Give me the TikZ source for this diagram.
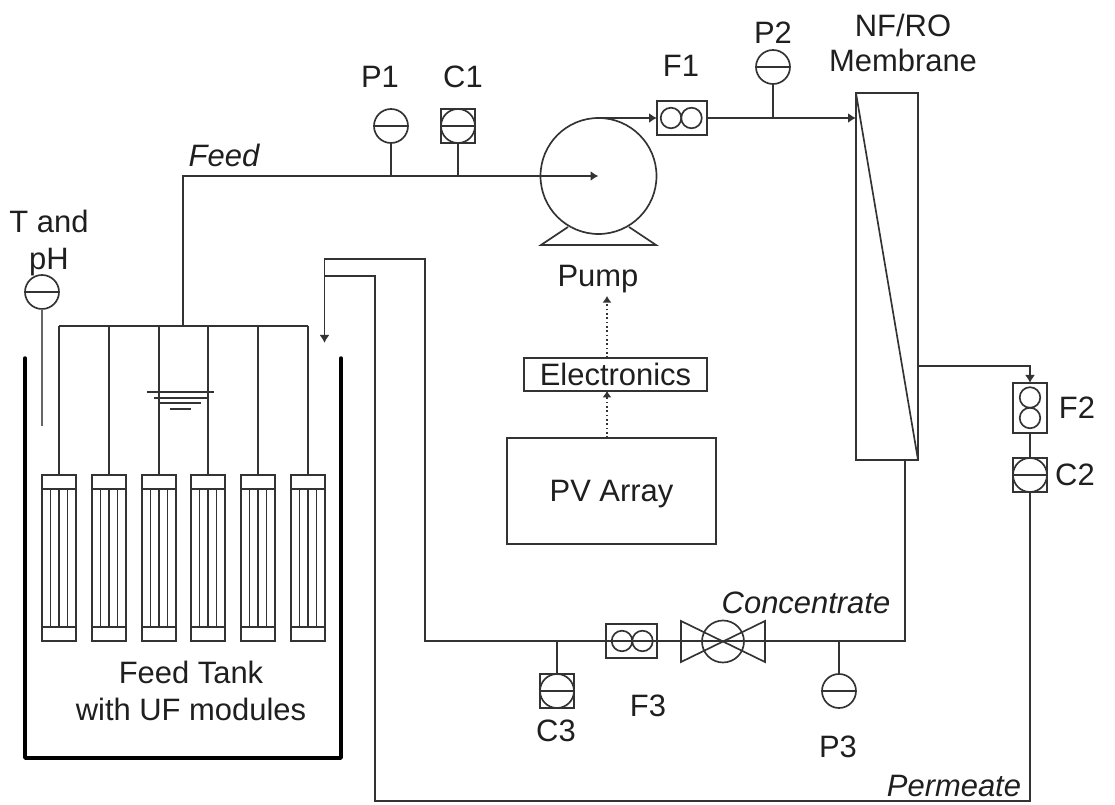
\documentclass[tikz,border=0pt]{standalone}
\usepackage{fontspec}
\setmainfont{Liberation Sans}
\usetikzlibrary{arrows.meta,calc}
\definecolor{ink}{gray}{0.2}
\definecolor{txt}{gray}{0.12}
\tikzset{
  every path/.append style={line width=1.25pt,draw=ink},
  lbl/.style={inner sep=0,outer sep=0,text=txt,font=\fontsize{23.2}{27}\selectfont,align=center},
  ilbl/.style={lbl,font=\fontsize{23.2}{27}\selectfont\itshape},
  gauge/.style={circle,draw=ink,inner sep=0,outer sep=0,minimum size=25.5pt,
    path picture={\draw (path picture bounding box.west) -- (path picture bounding box.east);}},
  sqbox/.style={rectangle,draw=ink,inner sep=0,outer sep=0,minimum size=25.5pt},
  flowbox/.style={rectangle,draw=ink,inner sep=0,outer sep=0},
  rotor/.style={circle,draw=ink,inner sep=0,outer sep=0,minimum size=15.4pt},
  flowto/.style={-{Latex[length=6pt,width=7.5pt]}},
  signal/.style={dotted,line width=1.2pt,-{Latex[length=5pt,width=7pt]}},
  modcap/.style={rectangle,draw=ink,inner sep=0,outer sep=0,minimum width=25.5pt,minimum height=10.2pt},
  tankwall/.style={line width=2.6pt,draw=black,line join=round,line cap=round},
}
\begin{document}
\begin{tikzpicture}[x=0.75pt,y=-0.75pt]
\useasboundingbox[fill=white,draw=none] (0,0) rectangle (1115,805);

% Tank
\coordinate (tankTL) at (25,358);
\coordinate (tankBL) at (25,758);
\coordinate (tankBR) at (341,758);
\coordinate (tankTR) at (341,358);
\draw[tankwall] (tankTL) -- (tankBL) -- (tankBR) -- (tankTR);

% UF modules
\foreach \i/\x in {1/59,2/109,3/159,4/208,5/258,6/308}{
  \node[modcap] (mt\i) at (\x,482) {};
  \node[modcap] (mb\i) at (\x,634) {};
  \coordinate (hdr\i) at (\x,326);
  \draw (hdr\i) -- (mt\i.north);
  \draw (mt\i.south west) -- (mb\i.north west);
  \draw (mt\i.south east) -- (mb\i.north east);
  \draw (mt\i.south) -- (mb\i.north);
  \draw ($(mt\i.south)+(-8.5,0)$) -- ($(mb\i.north)+(-8.5,0)$);
  \draw ($(mt\i.south)+(8.5,0)$) -- ($(mb\i.north)+(8.5,0)$);
}
\draw (hdr1) -- (hdr6);

% Liquid level
\coordinate (wa1) at (147,392); \coordinate (wa2) at (214,392);
\coordinate (wb1) at (154,398); \coordinate (wb2) at (208,398);
\coordinate (wc1) at (160,403); \coordinate (wc2) at (201,403);
\coordinate (wd1) at (170,409); \coordinate (wd2) at (191,409);
\draw (wa1) -- (wa2);
\draw (wb1) -- (wb2);
\draw (wc1) -- (wc2);
\draw (wd1) -- (wd2);

% Pump
\node[circle,draw=ink,inner sep=0,outer sep=0,minimum size=87pt] (pump) at (598.5,176) {};
\coordinate (baseL) at (541,245);
\coordinate (baseR) at (656,245);
\coordinate (legL) at (568,227);
\coordinate (legR) at (629,227);
\draw (legL) -- (baseL) -- (baseR) -- (legR);
\node[lbl] (pumplbl) at (598,279) {Pump};

% Feed line
\coordinate (feedjunc) at (183,326);
\coordinate (feedcorner) at (183,176);
\draw[flowto] (feedjunc) -- (feedcorner) -- (pump.center);
\node[ilbl] (feedlbl) at (224,155) {Feed};

% P1, C1
\node[gauge] (p1) at (391,126) {};
\node[lbl] (p1lbl) at (380,77) {P1};
\draw (p1.south) -- (p1.south |- pump.center);
\node[gauge] (c1) at (458,126) {};
\node[sqbox] (c1box) at (458,126) {};
\node[lbl] (c1lbl) at (463,77) {C1};
\draw (c1box.south) -- (c1box.south |- pump.center);

% F1
\node[flowbox,minimum width=37.5pt,minimum height=25.5pt] (f1) at (682,118) {};
\node[rotor] (f1a) at (671,118) {};
\node[rotor] (f1b) at (691.5,118) {};
\node[lbl] (f1lbl) at (681,66) {F1};
\draw[flowto] (pump.north) -- (f1.west);

% Membrane
\node[flowbox,minimum width=46.5pt,minimum height=275pt] (memb) at (887,276.5) {};
\draw (memb.north west) -- (memb.south east);
\node[lbl] (memblbl) at (903,43) {NF/RO\\[-0.5pt]Membrane};
\draw[flowto] (f1.east) -- (f1.east -| memb.west);

% P2
\node[gauge] (p2) at (773,67) {};
\node[lbl] (p2lbl) at (773,33) {P2};
\draw (p2.south) -- (p2.south |- f1.east);

% F2, C2
\node[flowbox,minimum width=25.5pt,minimum height=37.5pt] (f2) at (1030,408) {};
\node[rotor] (f2a) at (1030,397.5) {};
\node[rotor] (f2b) at (1030,418) {};
\node[lbl] (f2lbl) at (1077,408) {F2};
\node[gauge] (c2) at (1030,475) {};
\node[sqbox] (c2box) at (1030,475) {};
\node[lbl] (c2lbl) at (1075,475) {C2};
\coordinate (membout) at (918,366);
\draw[flowto] (membout) -| (f2.north);
\draw (f2.south) -- (c2box.north);

% Permeate line
\coordinate (permA) at (1030,801);
\coordinate (permB) at (375,801);
\coordinate (permC) at (375,276);
\coordinate (permD) at (324.5,276);
\draw (c2box.south) -- (permA) -- (permB) -- (permC) -- (permD);
\node[ilbl] (permlbl) at (954,786) {Permeate};

% Concentrate line
\coordinate (concA) at (905,460);
\coordinate (concB) at (905,641);
\coordinate (concC) at (425,641);
\coordinate (concD) at (425,259);
\coordinate (concE) at (324.5,259);
\coordinate (concF) at (324.5,343);
\draw[flowto] (concA) -- (concB) -- (concC) -- (concD) -- (concE) -- (concF);
\node[ilbl] (conclbl) at (806,603) {Concentrate};

% C3
\node[gauge] (c3) at (557,691) {};
\node[sqbox] (c3box) at (557,691) {};
\node[lbl] (c3lbl) at (556,731) {C3};
\draw (c3box.north) -- (c3box.north |- concC);

% F3
\node[flowbox,minimum width=38pt,minimum height=25.5pt] (f3) at (631.5,641) {};
\node[rotor] (f3a) at (622,641) {};
\node[rotor] (f3b) at (642.5,641) {};
\node[lbl] (f3lbl) at (648,706) {F3};

% Valve
\node[circle,draw=ink,inner sep=0,outer sep=0,minimum size=31.5pt] (valve) at (723,641.5) {};
\coordinate (vTL) at (681,621);
\coordinate (vBR) at (765,662);
\coordinate (vTR) at (765,621);
\coordinate (vBL) at (681,662);
\draw[line join=miter] (vTL) -- (vBR) -- (vTR) -- (vBL) -- cycle;

% P3
\node[gauge] (p3) at (839,691) {};
\node[lbl] (p3lbl) at (838,747) {P3};
\draw (p3.north) -- (p3.north |- concC);

% T and pH
\node[gauge] (tph) at (42,292) {};
\node[lbl] (tphlbl) at (49,243) {T and\\[1pt]pH};
\coordinate (tphend) at (42,426);
\draw[line width=1.5pt,draw=ink!75] (tph.south) -- (tphend);

% Electronics and PV
\node[flowbox,minimum width=137pt,minimum height=24.5pt,lbl,draw=ink] (elec) at (615.5,374.5) {Electronics};
\node[flowbox,minimum width=157pt,minimum height=79.5pt,lbl,draw=ink,text depth=0pt] (pv) at (611.5,491) {PV Array};
\coordinate (dotx) at (607,0);
\coordinate (pumpdot) at (607,296);
\draw[signal] (elec.north -| dotx) -- (pumpdot);
\draw[signal] (pv.north -| dotx) -- (elec.south -| dotx);

% Tank label
\node[lbl] (tanklbl) at (191,691) {Feed Tank\\[1pt]with UF modules};
\end{tikzpicture}
\end{document}
